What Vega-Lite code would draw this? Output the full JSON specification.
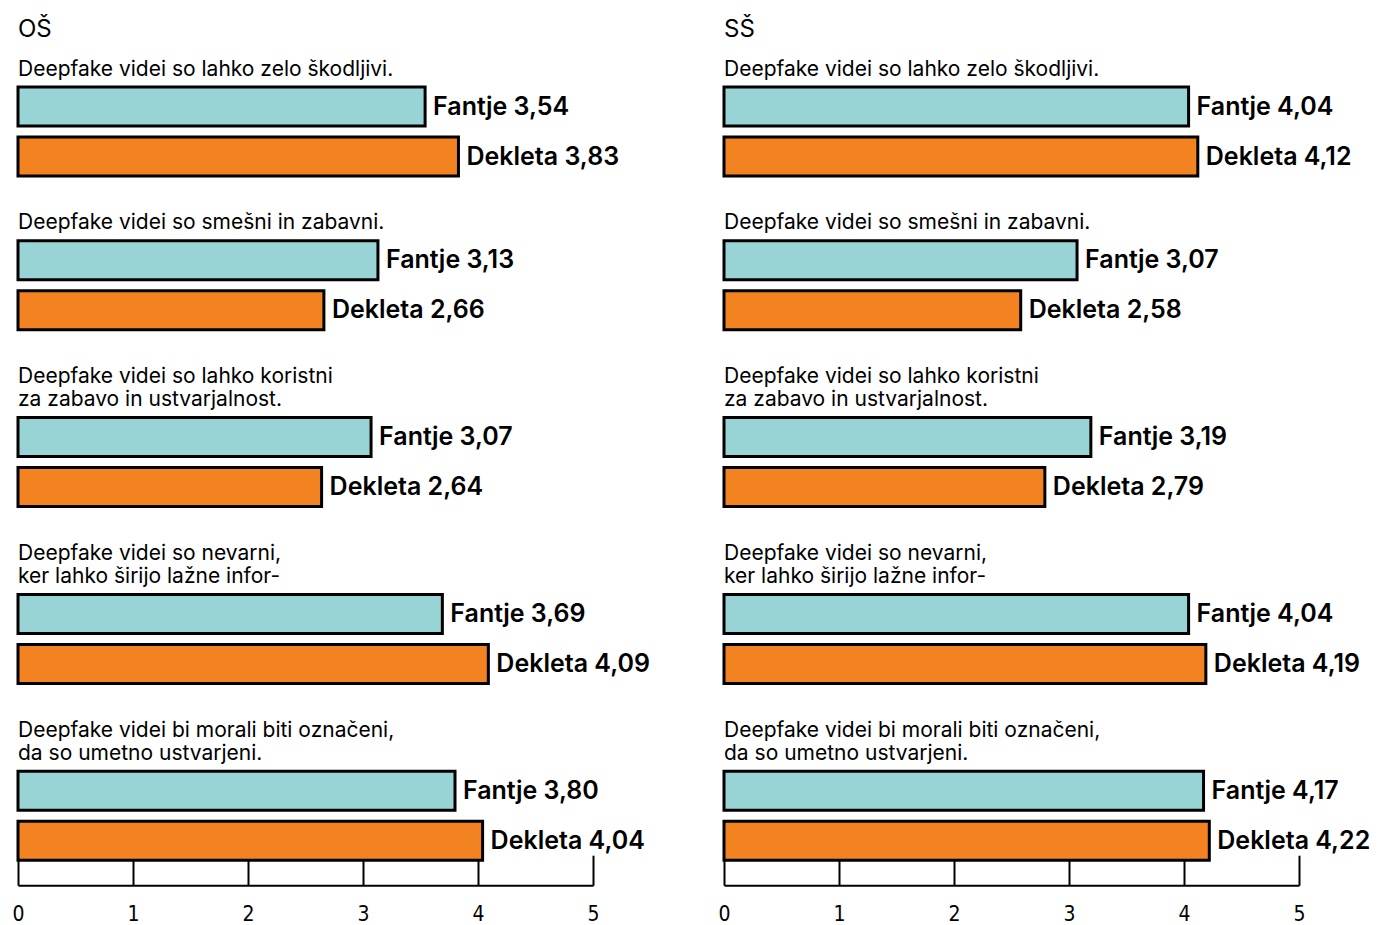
{
  "$schema": "https://vega.github.io/schema/vega-lite/v6.json",
  "padding": {"left": 11, "top": 17, "right": 2, "bottom": 0},
  "background": "white",
  "columns": 2,
  "align": "each",
  "bounds": "full",
  "spacing": {"row": 33.8, "column": 67},
  "data": {"values": [
    {"panel": "OŠ", "q": 1, "spol": "Fantje", "val": 3.54},
    {"panel": "OŠ", "q": 1, "spol": "Dekleta", "val": 3.83},
    {"panel": "OŠ", "q": 2, "spol": "Fantje", "val": 3.13},
    {"panel": "OŠ", "q": 2, "spol": "Dekleta", "val": 2.66},
    {"panel": "OŠ", "q": 3, "spol": "Fantje", "val": 3.07},
    {"panel": "OŠ", "q": 3, "spol": "Dekleta", "val": 2.64},
    {"panel": "OŠ", "q": 4, "spol": "Fantje", "val": 3.69},
    {"panel": "OŠ", "q": 4, "spol": "Dekleta", "val": 4.09},
    {"panel": "OŠ", "q": 5, "spol": "Fantje", "val": 3.80},
    {"panel": "OŠ", "q": 5, "spol": "Dekleta", "val": 4.04},
    {"panel": "SŠ", "q": 1, "spol": "Fantje", "val": 4.04},
    {"panel": "SŠ", "q": 1, "spol": "Dekleta", "val": 4.12},
    {"panel": "SŠ", "q": 2, "spol": "Fantje", "val": 3.07},
    {"panel": "SŠ", "q": 2, "spol": "Dekleta", "val": 2.58},
    {"panel": "SŠ", "q": 3, "spol": "Fantje", "val": 3.19},
    {"panel": "SŠ", "q": 3, "spol": "Dekleta", "val": 2.79},
    {"panel": "SŠ", "q": 4, "spol": "Fantje", "val": 4.04},
    {"panel": "SŠ", "q": 4, "spol": "Dekleta", "val": 4.19},
    {"panel": "SŠ", "q": 5, "spol": "Fantje", "val": 4.17},
    {"panel": "SŠ", "q": 5, "spol": "Dekleta", "val": 4.22}
  ]},
  "transform": [
    {"calculate": "datum.spol + ' ' + replace(format(datum.val, '.2f'), '.', ',')", "as": "label"}
  ],
  "config": {
    "view": {"stroke": null},
    "font": "Inter",
    "title": {"anchor": "start", "frame": "group", "fontSize": 21, "fontWeight": "normal", "color": "black", "offset": 6, "lineHeight": 23, "subtitleFontSize": 21, "subtitleColor": "black", "subtitleFont": "Inter", "subtitlePadding": 17, "subtitleLineHeight": 23},
    "bar": {"stroke": "black", "strokeWidth": 3},
    "text": {"fontSize": 25, "fontWeight": 600, "color": "black"},
    "axisX": {"labelFlush": false}
  },
  "concat": [
    {
      "width": 575, "height": 89,
      "title": {"text": "OŠ", "fontSize": 24, "subtitle": "Deepfake videi so lahko zelo škodljivi."},
      "transform": [{"filter": "datum.panel === 'OŠ' && datum.q === 1"}],
      "encoding": {
        "y": {"field": "spol", "type": "nominal", "sort": ["Fantje", "Dekleta"], "axis": null, "scale": {"paddingInner": 0.22, "paddingOuter": 0}},
        "x": {"field": "val", "type": "quantitative", "scale": {"domain": [0, 5]}, "axis": null}
      },
      "layer": [
        {"mark": "bar", "encoding": {"color": {"field": "spol", "type": "nominal", "scale": {"domain": ["Fantje", "Dekleta"], "range": ["#98D4D5", "#F38221"]}, "legend": null}}},
        {"mark": {"type": "text", "align": "left", "dx": 8}, "encoding": {"text": {"field": "label"}}}
      ]
    },
    {
      "width": 575, "height": 89,
      "title": {"text": "SŠ", "fontSize": 24, "subtitle": "Deepfake videi so lahko zelo škodljivi."},
      "transform": [{"filter": "datum.panel === 'SŠ' && datum.q === 1"}],
      "encoding": {
        "y": {"field": "spol", "type": "nominal", "sort": ["Fantje", "Dekleta"], "axis": null, "scale": {"paddingInner": 0.22, "paddingOuter": 0}},
        "x": {"field": "val", "type": "quantitative", "scale": {"domain": [0, 5]}, "axis": null}
      },
      "layer": [
        {"mark": "bar", "encoding": {"color": {"field": "spol", "type": "nominal", "scale": {"domain": ["Fantje", "Dekleta"], "range": ["#98D4D5", "#F38221"]}, "legend": null}}},
        {"mark": {"type": "text", "align": "left", "dx": 8}, "encoding": {"text": {"field": "label"}}}
      ]
    },
    {
      "width": 575, "height": 89,
      "title": {"text": "Deepfake videi so smešni in zabavni."},
      "transform": [{"filter": "datum.panel === 'OŠ' && datum.q === 2"}],
      "encoding": {
        "y": {"field": "spol", "type": "nominal", "sort": ["Fantje", "Dekleta"], "axis": null, "scale": {"paddingInner": 0.22, "paddingOuter": 0}},
        "x": {"field": "val", "type": "quantitative", "scale": {"domain": [0, 5]}, "axis": null}
      },
      "layer": [
        {"mark": "bar", "encoding": {"color": {"field": "spol", "type": "nominal", "scale": {"domain": ["Fantje", "Dekleta"], "range": ["#98D4D5", "#F38221"]}, "legend": null}}},
        {"mark": {"type": "text", "align": "left", "dx": 8}, "encoding": {"text": {"field": "label"}}}
      ]
    },
    {
      "width": 575, "height": 89,
      "title": {"text": "Deepfake videi so smešni in zabavni."},
      "transform": [{"filter": "datum.panel === 'SŠ' && datum.q === 2"}],
      "encoding": {
        "y": {"field": "spol", "type": "nominal", "sort": ["Fantje", "Dekleta"], "axis": null, "scale": {"paddingInner": 0.22, "paddingOuter": 0}},
        "x": {"field": "val", "type": "quantitative", "scale": {"domain": [0, 5]}, "axis": null}
      },
      "layer": [
        {"mark": "bar", "encoding": {"color": {"field": "spol", "type": "nominal", "scale": {"domain": ["Fantje", "Dekleta"], "range": ["#98D4D5", "#F38221"]}, "legend": null}}},
        {"mark": {"type": "text", "align": "left", "dx": 8}, "encoding": {"text": {"field": "label"}}}
      ]
    },
    {
      "width": 575, "height": 89,
      "title": {"text": ["Deepfake videi so lahko koristni", "za zabavo in ustvarjalnost."]},
      "transform": [{"filter": "datum.panel === 'OŠ' && datum.q === 3"}],
      "encoding": {
        "y": {"field": "spol", "type": "nominal", "sort": ["Fantje", "Dekleta"], "axis": null, "scale": {"paddingInner": 0.22, "paddingOuter": 0}},
        "x": {"field": "val", "type": "quantitative", "scale": {"domain": [0, 5]}, "axis": null}
      },
      "layer": [
        {"mark": "bar", "encoding": {"color": {"field": "spol", "type": "nominal", "scale": {"domain": ["Fantje", "Dekleta"], "range": ["#98D4D5", "#F38221"]}, "legend": null}}},
        {"mark": {"type": "text", "align": "left", "dx": 8}, "encoding": {"text": {"field": "label"}}}
      ]
    },
    {
      "width": 575, "height": 89,
      "title": {"text": ["Deepfake videi so lahko koristni", "za zabavo in ustvarjalnost."]},
      "transform": [{"filter": "datum.panel === 'SŠ' && datum.q === 3"}],
      "encoding": {
        "y": {"field": "spol", "type": "nominal", "sort": ["Fantje", "Dekleta"], "axis": null, "scale": {"paddingInner": 0.22, "paddingOuter": 0}},
        "x": {"field": "val", "type": "quantitative", "scale": {"domain": [0, 5]}, "axis": null}
      },
      "layer": [
        {"mark": "bar", "encoding": {"color": {"field": "spol", "type": "nominal", "scale": {"domain": ["Fantje", "Dekleta"], "range": ["#98D4D5", "#F38221"]}, "legend": null}}},
        {"mark": {"type": "text", "align": "left", "dx": 8}, "encoding": {"text": {"field": "label"}}}
      ]
    },
    {
      "width": 575, "height": 89,
      "title": {"text": ["Deepfake videi so nevarni,", "ker lahko širijo lažne infor-"]},
      "transform": [{"filter": "datum.panel === 'OŠ' && datum.q === 4"}],
      "encoding": {
        "y": {"field": "spol", "type": "nominal", "sort": ["Fantje", "Dekleta"], "axis": null, "scale": {"paddingInner": 0.22, "paddingOuter": 0}},
        "x": {"field": "val", "type": "quantitative", "scale": {"domain": [0, 5]}, "axis": null}
      },
      "layer": [
        {"mark": "bar", "encoding": {"color": {"field": "spol", "type": "nominal", "scale": {"domain": ["Fantje", "Dekleta"], "range": ["#98D4D5", "#F38221"]}, "legend": null}}},
        {"mark": {"type": "text", "align": "left", "dx": 8}, "encoding": {"text": {"field": "label"}}}
      ]
    },
    {
      "width": 575, "height": 89,
      "title": {"text": ["Deepfake videi so nevarni,", "ker lahko širijo lažne infor-"]},
      "transform": [{"filter": "datum.panel === 'SŠ' && datum.q === 4"}],
      "encoding": {
        "y": {"field": "spol", "type": "nominal", "sort": ["Fantje", "Dekleta"], "axis": null, "scale": {"paddingInner": 0.22, "paddingOuter": 0}},
        "x": {"field": "val", "type": "quantitative", "scale": {"domain": [0, 5]}, "axis": null}
      },
      "layer": [
        {"mark": "bar", "encoding": {"color": {"field": "spol", "type": "nominal", "scale": {"domain": ["Fantje", "Dekleta"], "range": ["#98D4D5", "#F38221"]}, "legend": null}}},
        {"mark": {"type": "text", "align": "left", "dx": 8}, "encoding": {"text": {"field": "label"}}}
      ]
    },
    {
      "width": 575, "height": 89,
      "title": {"text": ["Deepfake videi bi morali biti označeni,", "da so umetno ustvarjeni."]},
      "transform": [{"filter": "datum.panel === 'OŠ' && datum.q === 5"}],
      "encoding": {
        "y": {"field": "spol", "type": "nominal", "sort": ["Fantje", "Dekleta"], "axis": null, "scale": {"paddingInner": 0.22, "paddingOuter": 0}},
        "x": {"field": "val", "type": "quantitative", "scale": {"domain": [0, 5]}, "axis": {"values": [0, 1, 2, 3, 4, 5], "title": null, "grid": false, "offset": 25, "tickSize": -30, "tickWidth": 2, "tickColor": "black", "domainWidth": 2, "domainColor": "black", "labelFont": "DejaVu Sans Condensed", "labelFontSize": 21, "labelColor": "black", "labelPadding": 48, "labelFlush": false}}
      },
      "layer": [
        {"mark": "bar", "encoding": {"color": {"field": "spol", "type": "nominal", "scale": {"domain": ["Fantje", "Dekleta"], "range": ["#98D4D5", "#F38221"]}, "legend": null}}},
        {"mark": {"type": "text", "align": "left", "dx": 8}, "encoding": {"text": {"field": "label"}}}
      ]
    },
    {
      "width": 575, "height": 89,
      "title": {"text": ["Deepfake videi bi morali biti označeni,", "da so umetno ustvarjeni."]},
      "transform": [{"filter": "datum.panel === 'SŠ' && datum.q === 5"}],
      "encoding": {
        "y": {"field": "spol", "type": "nominal", "sort": ["Fantje", "Dekleta"], "axis": null, "scale": {"paddingInner": 0.22, "paddingOuter": 0}},
        "x": {"field": "val", "type": "quantitative", "scale": {"domain": [0, 5]}, "axis": {"values": [0, 1, 2, 3, 4, 5], "title": null, "grid": false, "offset": 25, "tickSize": -30, "tickWidth": 2, "tickColor": "black", "domainWidth": 2, "domainColor": "black", "labelFont": "DejaVu Sans Condensed", "labelFontSize": 21, "labelColor": "black", "labelPadding": 48, "labelFlush": false}}
      },
      "layer": [
        {"mark": "bar", "encoding": {"color": {"field": "spol", "type": "nominal", "scale": {"domain": ["Fantje", "Dekleta"], "range": ["#98D4D5", "#F38221"]}, "legend": null}}},
        {"mark": {"type": "text", "align": "left", "dx": 8}, "encoding": {"text": {"field": "label"}}}
      ]
    }
  ]
}
